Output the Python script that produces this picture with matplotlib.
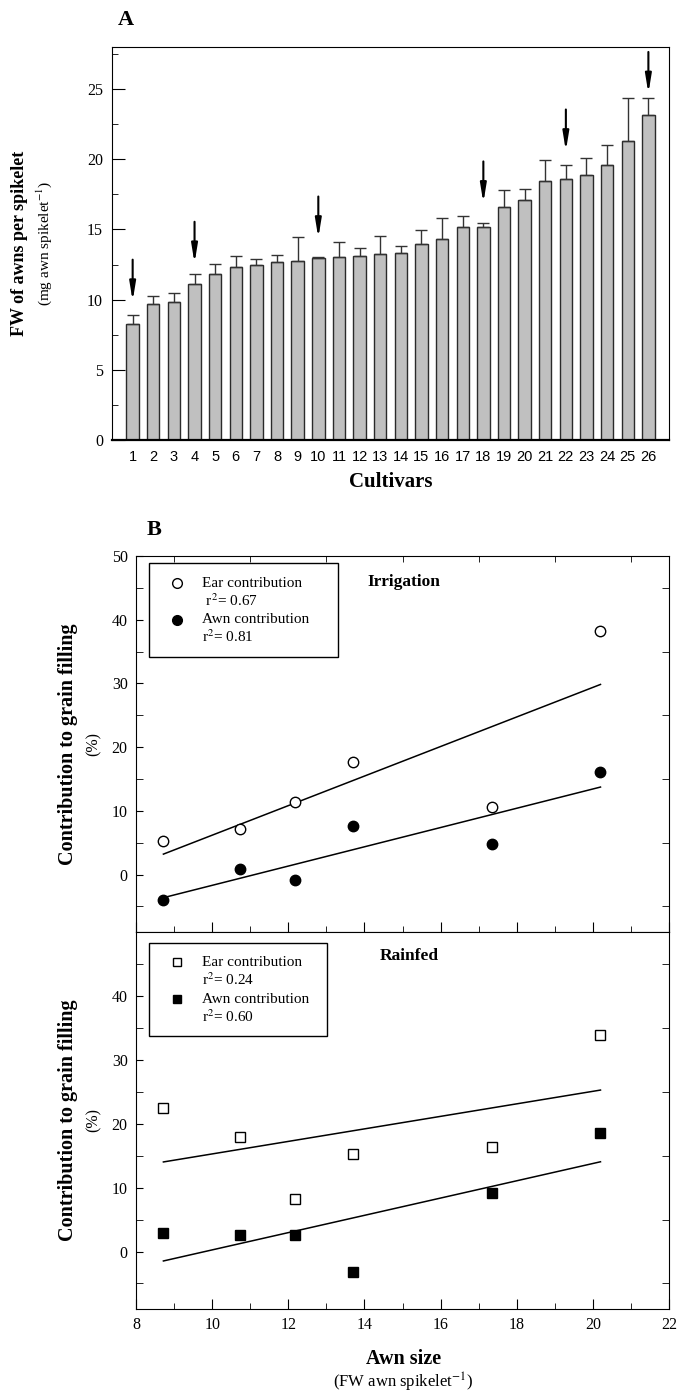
import numpy as np
import matplotlib.pyplot as plt
from matplotlib.ticker import MultipleLocator
from matplotlib.patches import Rectangle

plt.rcParams['font.family'] = 'Liberation Serif'
plt.rcParams['mathtext.fontset'] = 'stix'

# Panel A: fresh weight of awns per spikelet for 26 cultivars
cultivars = [1, 2, 3, 4, 5, 6, 7, 8, 9, 10, 11, 12, 13,
             14, 15, 16, 17, 18, 19, 20, 21, 22, 23, 24, 25, 26]
fw_awns = [8.24, 9.69, 9.83, 11.10, 11.83, 12.36, 12.50, 12.71, 12.76, 12.95,
           13.02, 13.14, 13.24, 13.29, 13.98, 14.29, 15.17, 15.19, 16.57, 17.10,
           18.48, 18.62, 18.88, 19.60, 21.29, 23.17]
fw_se = [0.69, 0.55, 0.67, 0.76, 0.74, 0.74, 0.38, 0.50, 1.67, 0.12,
         1.10, 0.57, 1.33, 0.50, 0.95, 1.50, 0.78, 0.26, 1.22, 0.78,
         1.45, 1.00, 1.19, 1.45, 3.07, 1.19]
# cultivars marked with an arrow, and the height of each arrow tip
marked = [1, 4, 10, 18, 22, 26]
arrow_tip = [9.9, 12.6, 14.4, 16.9, 20.6, 24.7]

# Panel B: contribution to grain filling vs awn size
awn_size = [8.72, 10.74, 12.18, 13.71, 17.35, 20.20]
irr_ear = [5.3, 7.1, 11.4, 17.6, 10.6, 38.2]
irr_awn = [-4.0, 0.8, -0.8, 7.6, 4.8, 16.1]
rf_ear = [22.4, 17.9, 8.3, 15.3, 16.3, 33.9]
rf_awn = [2.9, 2.6, 2.6, -3.2, 9.1, 18.5]
r2_irr = [0.67, 0.81]
r2_rf = [0.24, 0.60]

fig = plt.figure(figsize=(6.81, 13.92), dpi=100)

# ---------- Panel A ----------
axA = fig.add_axes([0.1645, 0.6839, 0.8179, 0.2823])
axA.bar(cultivars, fw_awns, width=0.6, color='#c0c0c0', edgecolor='#2a2a2a',
        linewidth=1, yerr=[np.zeros(len(fw_se)), fw_se],
        error_kw=dict(ecolor='#333333', elinewidth=1, capsize=4.3, capthick=1))

for c, tip in zip(marked, arrow_tip):
    axA.annotate('', xy=(c, tip), xytext=(c, tip + 2.95),
                 arrowprops=dict(arrowstyle='-|>,head_length=1.1,head_width=0.18',
                                 color='black', lw=1.5, shrinkA=0, shrinkB=0))

axA.set_xlim(0, 27)
axA.set_ylim(0, 28)
axA.set_xticks(cultivars)
axA.set_xticklabels([str(c) for c in cultivars], family='Liberation Sans', fontsize=10.5)
axA.yaxis.set_major_locator(MultipleLocator(5))
axA.yaxis.set_minor_locator(MultipleLocator(2.5))
axA.tick_params(axis='x', length=0, pad=7)
axA.tick_params(axis='y', which='major', direction='in', length=9, labelsize=11.5, pad=6.5)
axA.tick_params(axis='y', which='minor', direction='in', length=4)
axA.spines['bottom'].set_linewidth(1.6)

fig.text(0.185, 0.9856, 'A', fontsize=16, fontweight='bold', ha='center', va='center')
fig.text(0.029, 0.8254, 'FW of awns per spikelet', rotation=90, fontsize=13,
         fontweight='bold', ha='center', va='center')
fig.text(0.065, 0.8254, '(mg awn spikelet$^{-1}$)', rotation=90, fontsize=11,
         ha='center', va='center')
fig.text(0.574, 0.6537, 'Cultivars', fontsize=15, fontweight='bold', ha='center', va='center')

# ---------- Panel B ----------
fig.text(0.226, 0.619, 'B', fontsize=16, fontweight='bold', ha='center', va='center')
axI = fig.add_axes([0.1997, 0.3305, 0.7827, 0.2701])
axR = fig.add_axes([0.1997, 0.0596, 0.7827, 0.2708], sharex=axI)

panels = [
    (axI, irr_ear, irr_awn, r2_irr, 'Irrigation', 'o', 7.5,
     (0.024, 0.731, 0.355, 0.25), [0.928, 0.880, 0.830, 0.785], 0.435, 0.931, ' '),
    (axR, rf_ear, rf_awn, r2_rf, 'Rainfed', 's', 6.5,
     (0.024, 0.724, 0.334, 0.247), [0.920, 0.873, 0.822, 0.775], 0.458, 0.936, ''),
]

for ax, ear, awn, r2, title, mk, ms, box, rows, tx, ty, indent in panels:
    xs = np.array([min(awn_size), max(awn_size)])
    for ys, face in [(ear, 'white'), (awn, 'black')]:
        ax.plot(awn_size, ys, mk, mfc=face, mec='black', mew=1, ms=ms, zorder=3)
        fit = np.polyfit(awn_size, ys, 1)
        ax.plot(xs, np.polyval(fit, xs), color='black', lw=1.1)

    # legend box
    ax.add_patch(Rectangle(box[:2], box[2], box[3], transform=ax.transAxes,
                           fill=False, ec='black', lw=1))
    ax.plot(0.077, rows[0], mk, transform=ax.transAxes, mfc='white', mec='black',
            mew=1, ms=ms - 0.5)
    ax.plot(0.077, rows[2], mk, transform=ax.transAxes, mfc='black', mec='black',
            mew=1, ms=ms - 0.5)
    ax.text(0.124, rows[0], 'Ear contribution', transform=ax.transAxes,
            fontsize=11, va='center')
    ax.text(0.124, rows[1], indent + 'r$^2$= %.2f' % r2[0], transform=ax.transAxes,
            fontsize=11, va='center')
    ax.text(0.124, rows[2], 'Awn contribution', transform=ax.transAxes,
            fontsize=11, va='center')
    ax.text(0.124, rows[3], 'r$^2$= %.2f' % r2[1], transform=ax.transAxes,
            fontsize=11, va='center')
    ax.text(tx, ty, title, transform=ax.transAxes, fontsize=12.5,
            fontweight='bold', va='center')

    ax.set_xlim(8, 22)
    ax.xaxis.set_major_locator(MultipleLocator(2))
    ax.xaxis.set_minor_locator(MultipleLocator(1))
    ax.tick_params(which='both', direction='in', labelsize=11.5)
    ax.tick_params(axis='y', which='both', length=5, pad=6)
    ax.tick_params(axis='x', which='major', length=7, pad=6)
    ax.tick_params(axis='x', which='minor', length=4.5)
    ax.tick_params(which='major', top=False, right=False)

axI.set_yticks([0, 10, 20, 30, 40, 50])
axR.set_yticks([0, 10, 20, 30, 40])
axI.yaxis.set_minor_locator(MultipleLocator(5))
axR.yaxis.set_minor_locator(MultipleLocator(5))
axI.set_ylim(-9, 50)
axR.set_ylim(-9, 50)
axI.tick_params(which='minor', top=True, right=True)
axR.tick_params(which='minor', top=False, right=True)
axI.tick_params(labelbottom=False)

for yc in [0.4655, 0.1954]:
    fig.text(0.100, yc, 'Contribution to grain filling', rotation=90, fontsize=14.5,
             fontweight='bold', ha='center', va='center')
    fig.text(0.137, yc, '(%)', rotation=90, fontsize=11.5, ha='center', va='center')

fig.text(0.592, 0.0237, 'Awn size', fontsize=14.5, fontweight='bold', ha='center', va='center')
fig.text(0.592, 0.0072, '(FW awn spikelet$^{-1}$)', fontsize=12, ha='center', va='center')

fig.savefig('out.png', dpi=100)
